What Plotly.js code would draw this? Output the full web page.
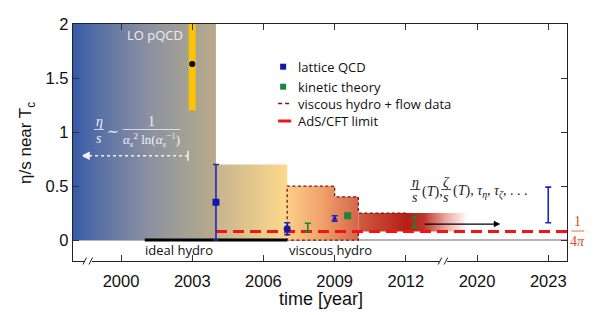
<!DOCTYPE html>
<html>
<head>
<meta charset="utf-8">
<script src="https://cdn.plot.ly/plotly-3.0.1.min.js"></script>
<style>
html,body{margin:0;padding:0;background:#fff;}
#chart{width:599px;height:315px;}
</style>
</head>
<body>
<div id="chart"></div>
<script>
// ---------------- data ----------------
// x axis has a break between 2012 and 2020
const tickYears = [2000, 2003, 2006, 2009, 2012, 2020, 2023];
const tickLabels = ['2000', '2003', '2006', '2009', '2012', '2020', '2023'];
const yTicks = [0, 0.5, 1, 1.5, 2];
const yTickLabels = ['0', '0.5', '1', '1.5', '2'];

// lattice QCD
const latticeYears = [2004, 2007, 2009, 2023];
const latticeVals = [0.35, 0.105, 0.20, 0.325];
const latticeErr = [0.35, 0.055, 0.025, 0.165];

// kinetic theory
const kineticYears = [2007.87, 2009.55, 2012.35];
const kineticVals = [0.116, 0.225, 0.167];
const kineticErr = [0.039, 0, 0.049];

// LO pQCD band
const pqcdYear = 2003;
const pqcdLow = 1.2, pqcdHigh = 2.0, pqcdPoint = 1.63;

// shaded eras (year boundaries, heights)
const eraPqcdX = [1997.9, 2004];
const eraPqcdTop = 2.0;
const eraEarlyX = [2004, 2007];
const eraEarlyTop = 0.7;
const eraHydroX = [2007, 2009, 2009, 2010];
const eraHydroTop = [0.5, 0.5, 0.4, 0.4];
const eraLateX = [2010, 2019.6];
const eraLateLow = 0.08, eraLateTop = 0.25;

// viscous hydro + flow data outline
const hydroOutX = [2012, 2010, 2010, 2009, 2009, 2007, 2007, 2010, 2010];
const hydroOutY = [0.25, 0.25, 0.4, 0.4, 0.5, 0.5, 0, 0, 0.08];

// AdS/CFT limit
const adsX = [2004, 2024];
const adsVal = 1 / (4 * Math.PI);

// ideal hydro era
const idealX = [2001, 2007];

// arrows
const pqcdArrowX = [1998.4, 2002.82];
const pqcdArrowY = 0.78;
const futureArrowX = [2012.73, 2020.98];
const futureArrowY = 0.148;

// ---------------- axis mapping (broken axis) ----------------
const BREAK = 2013.57, GAP = 5;
function ax(year) { return year > BREAK ? year - GAP : year; }
const mapX = arr => arr.map(ax);

// ---------------- layout geometry helpers ----------------
const L = 73, R = 566.7, T = 24, B = 261;
const px = x => (x - L) / (R - L);
const py = y => (B - y) / (B - T);

const blue = '#1018b0';
const green = '#13873a';
const darkRed = '#7a1616';

const traces = [];

// era 1: pQCD gradient
traces.push({
  x: mapX([eraPqcdX[0], eraPqcdX[1], eraPqcdX[1], eraPqcdX[0]]),
  y: [0, 0, eraPqcdTop, eraPqcdTop],
  mode: 'lines', fill: 'toself', line: {width: 0},
  fillgradient: {type: 'horizontal', colorscale: [[0, '#3458a8'], [0.19, '#5870a6'], [0.54, '#8c91a1'], [0.82, '#a6a294'], [1, '#bbaa8a']]},
  hoverinfo: 'skip', showlegend: false
});
// era 2
traces.push({
  x: mapX([eraEarlyX[0], eraEarlyX[1], eraEarlyX[1], eraEarlyX[0]]),
  y: [0, 0, eraEarlyTop, eraEarlyTop],
  mode: 'lines', fill: 'toself', line: {width: 0},
  fillgradient: {type: 'horizontal', colorscale: [[0, '#c7b38f'], [1, '#fdd98a']]},
  hoverinfo: 'skip', showlegend: false
});
// era 3 (stepped)
traces.push({
  x: mapX([eraHydroX[0]].concat(eraHydroX, [eraHydroX[eraHydroX.length - 1]])),
  y: [0].concat(eraHydroTop, [0]),
  mode: 'lines', fill: 'toself', line: {width: 0},
  fillgradient: {type: 'horizontal', colorscale: [[0, '#fbcf86'], [0.5, '#f0a06a'], [1, '#d4664a']]},
  hoverinfo: 'skip', showlegend: false
});
// era 4 (fading band)
traces.push({
  x: mapX([eraLateX[0], eraLateX[1], eraLateX[1], eraLateX[0]]),
  y: [eraLateLow, eraLateLow, eraLateTop, eraLateTop],
  mode: 'lines', fill: 'toself', line: {width: 0},
  fillgradient: {type: 'horizontal', colorscale: [[0, '#cf5c42'], [0.45, '#b51e14'], [0.6, '#c0362a'], [0.8, '#eaa89e'], [1, '#ffffff']]},
  hoverinfo: 'skip', showlegend: false
});
// hydro dashed outline
traces.push({
  x: mapX(hydroOutX), y: hydroOutY, mode: 'lines',
  line: {color: darkRed, width: 1.3, dash: '3px,2.5px'},
  hoverinfo: 'skip', showlegend: false
});
// ideal hydro bar
traces.push({
  x: mapX(idealX), y: [0, 0], mode: 'lines',
  line: {color: '#000', width: 3}, hoverinfo: 'skip', showlegend: false
});
// AdS/CFT
traces.push({
  x: mapX(adsX), y: [adsVal, adsVal], mode: 'lines',
  line: {color: '#f01414', width: 3, dash: '11px,6px'}, hoverinfo: 'skip', showlegend: false
});
// pQCD band and point
traces.push({
  x: mapX([pqcdYear, pqcdYear]), y: [pqcdLow, pqcdHigh], mode: 'lines',
  line: {color: '#fcc300', width: 7}, hoverinfo: 'skip', showlegend: false
});
traces.push({
  x: mapX([pqcdYear]), y: [pqcdPoint], mode: 'markers',
  marker: {color: '#000', size: 6, opacity: 1}, hoverinfo: 'skip', showlegend: false
});
// white dotted arrow
traces.push({
  x: mapX(pqcdArrowX), y: [pqcdArrowY, pqcdArrowY], mode: 'lines+markers',
  line: {color: '#f2f2f6', width: 1.5, dash: 'dot'},
  marker: {symbol: ['arrow-left', 'line-ns-open'], size: [6, 7], opacity: 1, color: '#f2f2f6', line: {color: '#f2f2f6', width: 1.5}},
  hoverinfo: 'skip', showlegend: false
});
// lattice QCD
traces.push({
  x: mapX(latticeYears), y: latticeVals, mode: 'markers',
  marker: {color: blue, opacity: 1, line: {width: 0}, symbol: ['square', 'circle', 'triangle-up', 'circle'], size: [7, 7, 5, 0]},
  error_y: {type: 'data', array: latticeErr, color: '#1c28b8', thickness: 1.6, width: 3},
  hoverinfo: 'skip', showlegend: false
});
// kinetic theory
traces.push({
  x: mapX(kineticYears), y: kineticVals, mode: 'markers',
  marker: {color: green, opacity: 1, line: {width: 0}, symbol: 'square', size: [0, 7, 0]},
  error_y: {type: 'data', array: kineticErr, color: green, thickness: 1.6, width: 3},
  hoverinfo: 'skip', showlegend: false
});

const txtFont = {family: 'Open Sans, sans-serif', size: 13, color: '#111'};
const annots = [];
function A(x, y, text, font, extra) {
  annots.push(Object.assign({xref: 'paper', yref: 'paper', x: px(x), y: py(y), text: text, showarrow: false,
    font: font, xanchor: 'center', yanchor: 'middle'}, extra || {}));
}
// axis titles
A(321, 299, 'time [year]', {family: 'Liberation Sans, Arial, sans-serif', size: 18, color: '#111'});
A(27, 143, 'η/s near T<sub>c</sub>', {family: 'Liberation Sans, Arial, sans-serif', size: 17, color: '#111'}, {textangle: -90});
// in-plot labels
A(154.5, 35, 'LO pQCD', {family: 'Open Sans, sans-serif', size: 13, color: '#eceef4'});
A(179, 250, 'ideal hydro', txtFont);
A(330, 250, 'viscous hydro', txtFont);
// legend
const legY = [66.7, 86.7, 103.5, 121];
const legText = ['lattice QCD', 'kinetic theory', 'viscous hydro + flow data', 'AdS/CFT limit'];
legText.forEach((t, i) => A(296, legY[i], t, txtFont, {xanchor: 'left'}));
// formula in pQCD region
const wf = {family: 'Liberation Serif, DejaVu Serif, serif', size: 14, color: '#eef0f6'};
A(99, 121, '<i>η</i>', wf);
A(99, 138, '<i>s</i>', wf);
A(113, 131, '∼', wf);
A(151, 121, '1', wf);
A(151, 140, '<i>α</i><sub><i>s</i></sub><sup>2</sup> ln(<i>α</i><sub><i>s</i></sub><sup>−1</sup>)', Object.assign({}, wf, {size: 13}));
// right formula
const rf = {family: 'Liberation Serif, DejaVu Serif, serif', size: 14, color: '#222'};
A(415, 182, '<i>η</i>', rf);
A(415, 197, '<i>s</i>', rf);
A(420, 192, '(<i>T</i>),', rf, {xanchor: 'left'});
A(446, 182, '<i>ζ</i>', rf);
A(446, 197, '<i>s</i>', rf);
A(451, 192, '(<i>T</i>),&nbsp;<i>τ</i><sub><i>η</i></sub>,&nbsp;<i>τ</i><sub><i>ζ</i></sub>,&nbsp;. . .', rf, {xanchor: 'left'});
// 1/4π
const of = {family: 'Liberation Serif, DejaVu Serif, serif', size: 14, color: '#d4501e'};
A(577.5, 221, '1', of);
A(577.5, 241, '4<i>π</i>', of);
// black arrow
annots.push({xref: 'x', yref: 'y', axref: 'x', ayref: 'y', x: ax(futureArrowX[1]), y: futureArrowY,
  ax: ax(futureArrowX[0]), ay: futureArrowY, showarrow: true, arrowhead: 2, arrowsize: 1, arrowwidth: 1.3,
  arrowcolor: '#000', text: ''});

const shapes = [];
function line(x0, y0, x1, y1, color, width, dash) {
  shapes.push({type: 'line', xref: 'paper', yref: 'paper', x0: px(x0), y0: py(y0), x1: px(x1), y1: py(y1),
    line: {color: color, width: width, dash: dash || 'solid'}, layer: 'above'});
}
// fraction bars
line(94, 129.5, 104, 129.5, '#eef0f6', 0.8);
line(123, 129.5, 180, 129.5, '#eef0f6', 0.8);
line(410, 189.5, 420, 189.5, '#222', 0.8);
line(441, 189.5, 451, 189.5, '#222', 0.8);
line(571, 231, 584, 231, '#d4501e', 0.8);
// legend symbols
shapes.push({type: 'rect', xref: 'paper', yref: 'paper', x0: px(280), x1: px(286), y0: py(63.7), y1: py(69.7),
  fillcolor: blue, line: {width: 0}});
shapes.push({type: 'rect', xref: 'paper', yref: 'paper', x0: px(280), x1: px(286), y0: py(83.7), y1: py(89.7),
  fillcolor: green, line: {width: 0}});
line(278, 103.5, 291, 103.5, darkRed, 1.4, '4px,3px');
line(278, 121, 291, 121, '#f01414', 3);
// axis break marks
[88, 443].forEach(bx => {
  shapes.push({type: 'rect', xref: 'paper', yref: 'paper', x0: px(bx - 4), x1: px(bx + 4), y0: py(263), y1: py(259),
    fillcolor: '#fff', line: {width: 0}, layer: 'above'});
  line(bx - 5, 264.5, bx - 1.5, 257.5, '#222', 1);
  line(bx + 1, 264.5, bx + 4.5, 257.5, '#222', 1);
});

const layout = {
  width: 599, height: 315,
  margin: {l: L, r: 599 - R, t: T, b: 315 - B, pad: 0},
  paper_bgcolor: '#fff', plot_bgcolor: '#fff',
  showlegend: false, hovermode: false,
  font: {family: 'Liberation Sans, Arial, sans-serif', size: 16, color: '#111'},
  xaxis: {
    range: [ax(1997.976), ax(2023.79)], tickvals: mapX(tickYears), ticktext: tickLabels,
    ticks: 'inside', ticklen: 6, tickwidth: 1, tickcolor: '#333', ticklabelstandoff: 5,
    showline: true, linecolor: '#222', linewidth: 1.2, mirror: 'ticks',
    showgrid: false, zeroline: false, tickfont: {size: 16.5}
  },
  yaxis: {
    range: [-0.194, 2.0], tickvals: yTicks, ticktext: yTickLabels,
    ticks: 'inside', ticklen: 6, tickwidth: 1, tickcolor: '#333',
    showline: true, linecolor: '#222', linewidth: 1.2, mirror: 'ticks',
    showgrid: false, zeroline: true, zerolinecolor: '#b4b4b4', zerolinewidth: 1.5, tickfont: {size: 16.5}
  },
  annotations: annots,
  shapes: shapes
};

Plotly.newPlot('chart', traces, layout, {staticPlot: true, displayModeBar: false});
</script>
</body>
</html>
